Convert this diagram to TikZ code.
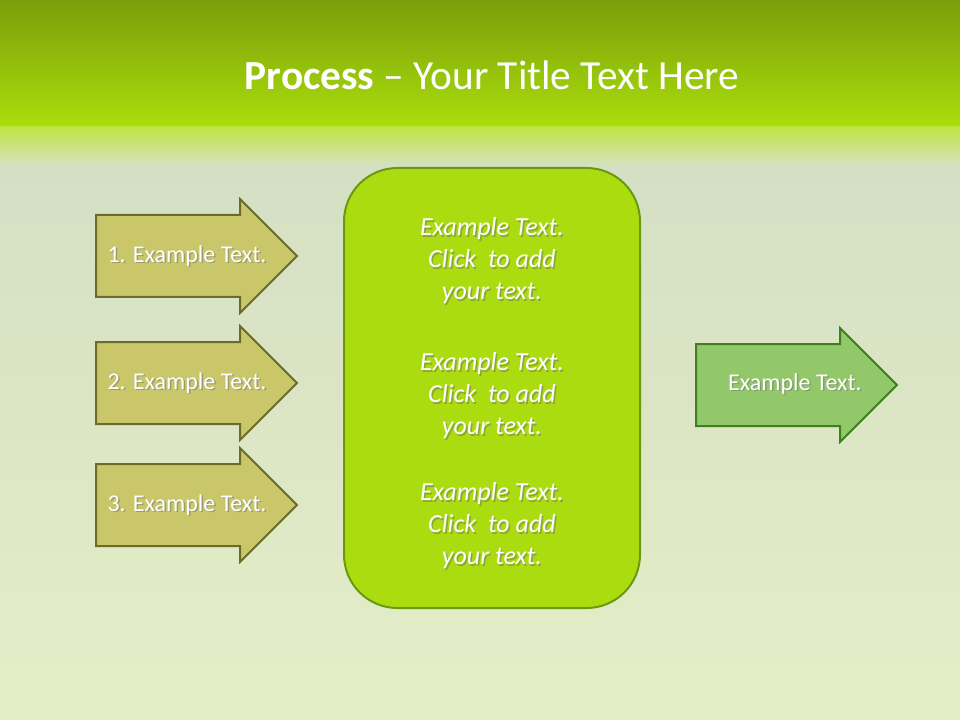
\documentclass[tikz,border=0pt]{standalone}
\usepackage{fontspec}
\setmainfont{Carlito}
\begin{document}
\begin{tikzpicture}[x=0.75pt,y=-0.75pt,
  arr/.style={line width=1.5pt},
  lbl/.style={text=white,font=\fontsize{18}{22}\selectfont},
  ctr/.style={text=white,font=\fontsize{19.5}{24}\selectfont\itshape,align=center}]
\useasboundingbox (0,0) rectangle (960,720);
\shade[top color={rgb,255:red,212;green,222;blue,196}, bottom color={rgb,255:red,228;green,238;blue,198}] (0,130) rectangle (960,720);
\shade[top color={rgb,255:red,190;green,228;blue,60}, bottom color={rgb,255:red,214;green,226;blue,190}] (0,125) rectangle (960,165);
\shade[top color={rgb,255:red,122;green,158;blue,10}, bottom color={rgb,255:red,170;green,222;blue,12}] (0,0) rectangle (960,126);
\node (title) at (492,75) {\color{white}\fontsize{31}{36}\selectfont\textbf{Process} -- Your Title Text Here};
\tikzset{larr/.style={arr,draw={rgb,255:red,107;green,107;blue,42},fill={rgb,255:red,201;green,199;blue,106}}}
\foreach \n/\t in {1/256,2/383,3/505}{
  \draw[larr] (96,\t-41) -- (240,\t-41) -- (240,\t-57) -- (297,\t) -- (240,\t+57) -- (240,\t+41) -- (96,\t+41) -- cycle;
  \node[lbl,text=black!55,opacity=0.5] at (188.5,\t+1.5) {\n. Example Text.};
  \node[lbl] (a\n) at (187,\t) {\n. Example Text.};
}
\draw[arr,draw={rgb,255:red,106;green,154;blue,16},fill={rgb,255:red,170;green,220;blue,16},rounded corners=40] (344,168) rectangle (640,608);
\foreach \n/\y in {1/261,2/396,3/526}{
  \node[ctr,text=black!60,opacity=0.45] at (493.5,\y+1.5) {Example Text.\\Click\ \ to add\\your text.};
  \node[ctr] (c\n) at (492,\y) {Example Text.\\Click\ \ to add\\your text.};
}
\draw[arr,draw={rgb,255:red,63;green,127;blue,32},fill={rgb,255:red,146;green,200;blue,106}] (696,344) -- (840,344) -- (840,328) -- (897,385) -- (840,442) -- (840,426) -- (696,426) -- cycle;
\node[lbl,text=black!55,opacity=0.5] at (796.5,385.5) {Example Text.};
\node[lbl] (r) at (795,384) {Example Text.};
\end{tikzpicture}
\end{document}
